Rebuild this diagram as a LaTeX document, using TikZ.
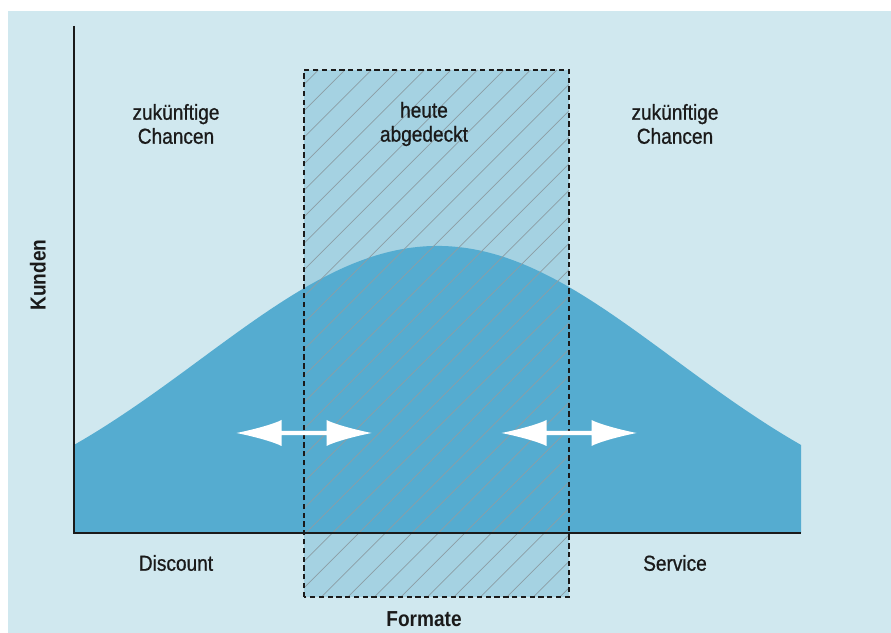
\documentclass[tikz,border=0pt]{standalone}
\usepackage{fontspec}
\setmainfont{Liberation Sans}[FakeStretch=0.88, UprightFeatures={FakeBold=0.8}]

\definecolor{bgblue}{HTML}{D0E8EF}
\definecolor{bellblue}{HTML}{55ACD0}
\definecolor{boxblue}{HTML}{A5D2E2}
\definecolor{hatchgrey}{HTML}{8C9EA5}
\definecolor{inkblack}{HTML}{1A1A1A}

\tikzset{
  lbl/.style={font=\fontsize{18.5}{20.5}\selectfont, text=inkblack, align=center},
  axislbl/.style={lbl, font=\fontsize{18.5}{20.5}\selectfont\bfseries},
  axisline/.style={draw=inkblack, line width=2pt},
  boxedge/.style={draw=inkblack, line width=2pt, dash pattern=on 4.5pt off 3pt},
}

\begin{document}
\begin{tikzpicture}[x=0.3cm, y=0.3cm]
  \useasboundingbox (0,0) rectangle (89.1,63.3);
  % panel
  \fill[bgblue] (0.8,0) rectangle (89.1,62.2);

  % covered range, fill only (hatching comes on top of the curve)
  \fill[boxblue] (30.4,3.6) rectangle (56.9,56.3);

  % bell curve
  \fill[bellblue] (7.4,10) -- plot[domain=7.4:80.1, samples=90, smooth]
    (\x, {10+28.7*exp(-((\x-43.75)^2)/1118)}) -- (80.1,10) -- cycle;

  % hatching inside the covered range
  \begin{scope}
    \clip (30.4,3.6) rectangle (56.9,56.3);
    \foreach \x in {-23.5,-20.85,...,57}
      \draw[hatchgrey, line width=0.6pt] (\x,3.6) -- ++(52.7,52.7);
  \end{scope}

  % axes
  \draw[axisline] (7.4,60.7) -- (7.4,10) -- (80.1,10);
  \draw[boxedge] (30.4,3.6) rectangle (56.9,56.3);

  % two-way arrows on the range borders
  \foreach \c in {30.4,56.9}
    \fill[white] (\c-6.75,20) .. controls (\c-5.0,20.35) and (\c-3.0,20.9) .. (\c-2.25,21.3)
      -- (\c-2.25,20.22) -- (\c+2.25,20.22) -- (\c+2.25,21.3)
      .. controls (\c+3.0,20.9) and (\c+5.0,20.35) .. (\c+6.75,20)
      .. controls (\c+5.0,19.65) and (\c+3.0,19.1) .. (\c+2.25,18.7)
      -- (\c+2.25,19.78) -- (\c-2.25,19.78) -- (\c-2.25,18.7)
      .. controls (\c-3.0,19.1) and (\c-5.0,19.65) .. (\c-6.75,20) -- cycle;

  % labels
  \node[lbl] (leftchance) at (17.6,50.9) {zukünftige\\Chancen};
  \node[lbl] (covered) at (42.4,50.9) {heute\\abgedeckt};
  \node[lbl] (rightchance) at (67.5,50.9) {zukünftige\\Chancen};
  \node[lbl] (discount) at (17.6,7.0) {Discount};
  \node[lbl] (service) at (67.5,7.0) {Service};
  \node[axislbl] (formate) at (42.4,1.35) {Formate};
  \node[axislbl, rotate=90] (kunden) at (3.8,35.8) {Kunden};
\end{tikzpicture}
\end{document}
